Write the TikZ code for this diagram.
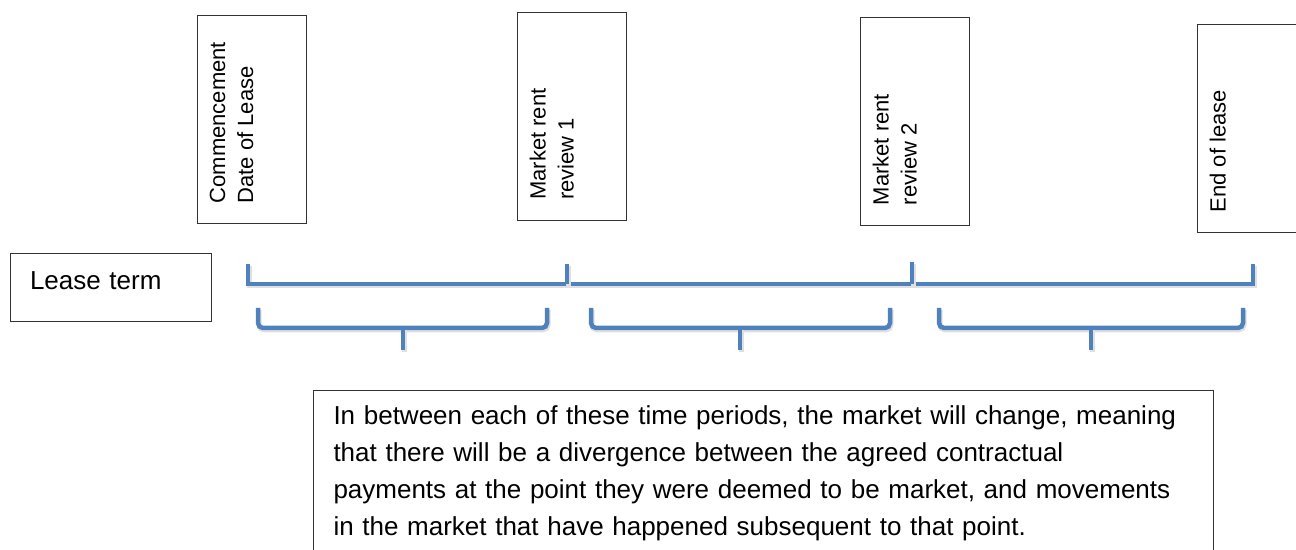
\documentclass[tikz,border=0pt]{standalone}
\usepackage{fontspec}
\setmainfont{Liberation Sans}
\usetikzlibrary{positioning}

\definecolor{leaseblue}{RGB}{79,129,189}

\begin{document}
\begin{tikzpicture}[x=1pt, y=1pt,
    datebox/.style={draw=black!80, line width=1pt, minimum width=109pt, minimum height=208pt, inner sep=0pt},
    datetext/.style={rotate=90, anchor=north west, align=left, inner sep=0pt, font=\fontsize{22}{28}\selectfont},
    blueline/.style={draw=leaseblue, line width=4.5pt, line cap=butt, rounded corners=5pt,
        preaction={draw=black!12, line width=5pt, transform canvas={shift={(1pt,-2pt)}}}}]
    \useasboundingbox (0,0) rectangle (1296,549);

    % dates along the top
    \node[datebox] (start) at (251.5,429)   {};
    \node[datebox] (rev1)  at (571.5,432.5) {};
    \node[datebox] (rev2)  at (914.5,427)   {};
    \node[datebox] (finish) at (1251.5,420) {};
    \node[datetext] (starttxt)  at ([shift={(13,21)}]start.south west)  {Commencement\\Date of Lease};
    \node[datetext] (rev1txt)   at ([shift={(13,21)}]rev1.south west)   {Market rent\\review 1};
    \node[datetext] (rev2txt)   at ([shift={(13,21)}]rev2.south west)   {Market rent\\review 2};
    \node[datetext] (finishtxt) at ([shift={(13,21)}]finish.south west) {End of lease};

    \node[draw=black!80, line width=1pt, minimum width=201pt, minimum height=68pt, text width=161pt,
          align=left, text depth=14pt, font=\fontsize{26}{30}\selectfont] (term) at (110.5,261) {Lease term};

    % the lease term line
    \coordinate (t0) at (248,265);
    \coordinate (t1) at (567,265);
    \coordinate (t2) at (912,265);
    \coordinate (t3) at (1253,265);
    \draw[blueline, rounded corners=0pt] ([yshift=20]t0) -- (t0) -- (t3) -- ([yshift=20]t3);
    \draw[blueline, rounded corners=0pt] (t1) -- ([yshift=20]t1);
    \draw[blueline, rounded corners=0pt] (t2) -- ([yshift=22]t2);

    % the periods in between
    \foreach \a/\b/\m [count=\i] in {258/547/403, 591/890/740, 939/1243/1091} {
        \draw[blueline] (\a,241) -- (\a,221) -- (\b,221) -- (\b,241);
        \draw[blueline] (\m,221) -- (\m,199);
    }

    \node[draw=black!80, line width=1pt, anchor=north west, text width=860pt, minimum width=900pt,
          inner xsep=20pt, inner ysep=15pt, align=left,
          font=\fontsize{26}{37}\selectfont] (note) at (313,159)
        {In between each of these time periods, the market will change, meaning\\
         that there will be a divergence between the agreed contractual\\
         payments at the point they were deemed to be market, and movements\\
         in the market that have happened subsequent to that point.};
\end{tikzpicture}
\end{document}
